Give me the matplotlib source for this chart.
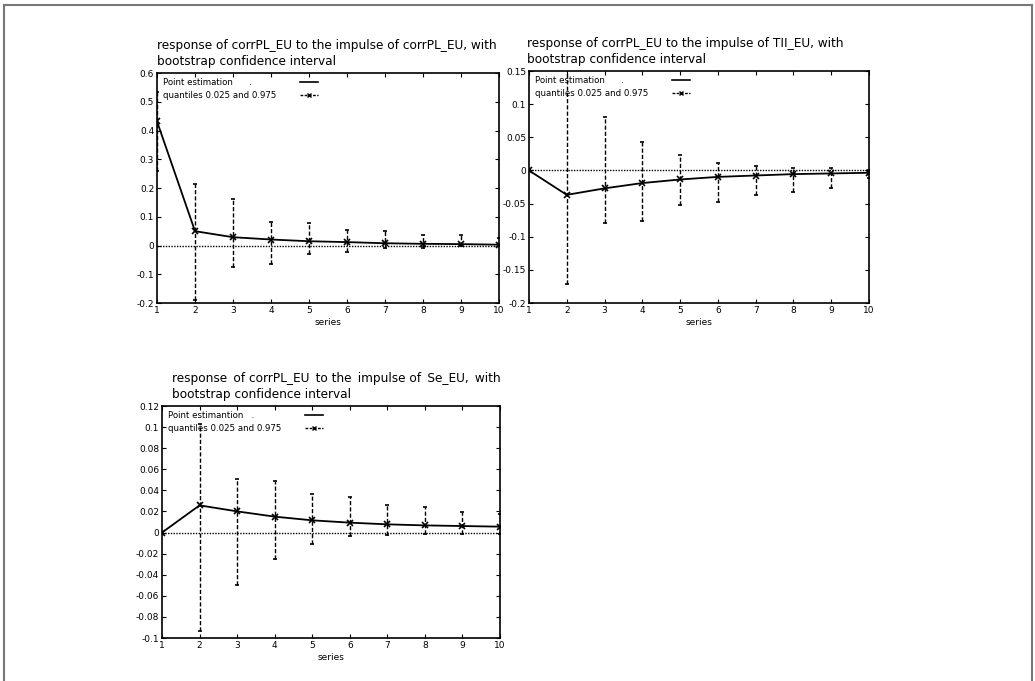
import numpy as np
import matplotlib.pyplot as plt
from matplotlib.lines import Line2D
from matplotlib.ticker import FuncFormatter

# impulse response horizon
steps = np.arange(1, 11)

# response of corrPL_EU to corrPL_EU
est_pl = [0.432, 0.050, 0.029, 0.021, 0.015, 0.012, 0.008, 0.006, 0.005, 0.003]
lo_pl = [0.26, -0.189, -0.075, -0.064, -0.029, -0.021, -0.009, -0.008, -0.003, -0.001]
hi_pl = [0.535, 0.214, 0.162, 0.081, 0.079, 0.054, 0.049, 0.038, 0.035, 0.027]

# response of corrPL_EU to TII_EU
est_tii = [0.0, -0.0368, -0.027, -0.019, -0.0136, -0.0097, -0.0076, -0.0055, -0.0045, -0.0035]
lo_tii = [0.0, -0.171, -0.080, -0.076, -0.052, -0.047, -0.037, -0.033, -0.027, -0.011]
hi_tii = [0.0, 0.17, 0.080, 0.043, 0.023, 0.0115, 0.0065, 0.004, 0.003, 0.0005]

# response of corrPL_EU to Se_EU
est_se = [0.0, 0.0258, 0.0201, 0.0151, 0.0116, 0.0094, 0.0078, 0.0068, 0.0062, 0.0056]
lo_se = [0.0, -0.0937, -0.0494, -0.0248, -0.0109, -0.0036, -0.0023, -0.0017, -0.0014, -0.0017]
hi_se = [0.0, 0.103, 0.0505, 0.0489, 0.0369, 0.0337, 0.026, 0.0246, 0.0195, 0.018]

W, H = 1035, 681
fig = plt.figure(figsize=(W / 100, H / 100), dpi=100)


def fmt(v, pos):
    if abs(v) < 1e-9:
        return '0'
    return f'{round(v, 4):g}'


def panel(rect, title, title_dx, est, lo, hi, ylim, ystep, est_label):
    ax = fig.add_axes(rect)
    wpx, hpx = rect[2] * W, rect[3] * H
    est, lo, hi = np.array(est), np.array(lo), np.array(hi)
    ax.axhline(0, color='k', lw=1, ls=(0, (1, 1)), zorder=1)
    ax.plot(steps, est, color='k', lw=1.3, zorder=3)
    eb = ax.errorbar(steps, est, yerr=[est - lo, hi - est], fmt='x', color='k',
                     ms=4, mew=1.2, elinewidth=1, capsize=1.5, capthick=1, zorder=4)
    eb[2][0].set_linestyle((0, (3, 1.5)))
    ax.set_xlim(1, 10)
    ax.set_ylim(*ylim)
    ax.set_xticks(steps)
    ax.set_yticks(np.arange(ylim[0], ylim[1] + ystep / 2, ystep))
    ax.yaxis.set_major_formatter(FuncFormatter(fmt))
    ax.tick_params(direction='in', top=True, right=True, labelsize=6.5,
                   length=3, width=0.8, pad=2)
    for s in ax.spines.values():
        s.set_linewidth(1.2)
    ax.set_xlabel('series', fontsize=6.5, labelpad=2)
    ax.annotate(title, xy=(0, 1), xycoords='axes fraction', xytext=(title_dx, 5),
                textcoords='offset pixels', ha='left', va='bottom',
                fontsize=8.7, linespacing=1.3)

    # gnuplot style key: text on the left, sample on the right
    rows = [(9, est_label, dict(color='k', lw=1.2)),
            (22, 'quantiles 0.025 and 0.975',
             dict(color='k', lw=1, ls=(0, (2, 1)), marker='x', ms=3, mew=1, markevery=[1]))]
    for dy, label, style in rows:
        yy = 1 - dy / hpx
        ax.text(6 / wpx, yy, label, transform=ax.transAxes, fontsize=6.2,
                va='center', ha='left')
        ax.add_line(Line2D([143 / wpx, 152 / wpx, 161 / wpx], [yy, yy, yy],
                           transform=ax.transAxes, **style))
    return ax


panel([0.1517, 0.555, 0.3305, 0.3377],
      'response of corrPL_EU to the impulse of corrPL_EU, with\nbootstrap confidence interval', 0,
      est_pl, lo_pl, hi_pl, (-0.2, 0.6), 0.1, 'Point estimation      .')
panel([0.5111, 0.555, 0.3285, 0.3407],
      'response of corrPL_EU to the impulse of TII_EU, with\nbootstrap confidence interval', -2,
      est_tii, lo_tii, hi_tii, (-0.2, 0.15), 0.05, 'Point estimation      .')
panel([0.1565, 0.0631, 0.3266, 0.3407],
      'response \u2009of corrPL_EU \u2009to the \u2009impulse of \u2009Se_EU, \u2009with\n'
      'bootstrap confidence interval', 10,
      est_se, lo_se, hi_se, (-0.1, 0.12), 0.02, 'Point estimantion   .')

# grey page frame
for xs, ys in [([4, 1032], [5, 5]), ([4, 4], [5, H]), ([1032, 1032], [5, H])]:
    fig.add_artist(Line2D([x / W for x in xs], [1 - y / H for y in ys],
                          color='#777777', lw=1.5, transform=fig.transFigure))

fig.savefig('out.png', dpi=100)
